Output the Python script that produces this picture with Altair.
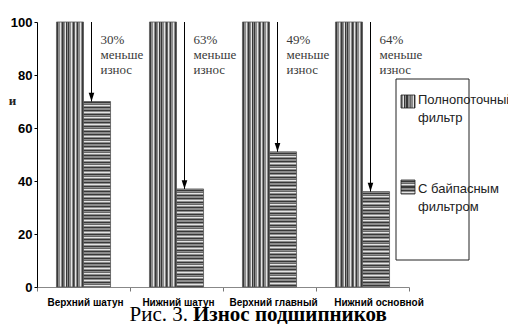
import altair as alt
import pandas as pd

# ---------------- data ----------------
categories = ["Верхний шатун", "Нижний шатун", "Верхний главный", "Нижний основной"]
series = ["Полнопоточный фильтр", "С байпасным фильтром"]
full_flow = [100, 100, 100, 100]
bypass = [70, 37, 51, 36]
reduction_labels = ["30%", "63%", "49%", "64%"]
reduction_text = "меньше\nизнос"
y_ticks = [0, 20, 40, 60, 80, 100]
y_title = "и"
caption_plain = "Рис. 3."
caption_bold = "Износ подшипников"

# ---------------- style ----------------
W, H = 372, 265
CMAP = {"g": "#8c8c8c", "d": "#383838", "l": "#e4e4e4", "m": "#666666"}
V_SEQ = "mdgglgdmgldgdgglgdmlgdgglgd"
H_CYC = "gdgmlgdggdgl"


def stripes(seq, vertical):
    stops = []
    n = len(seq)
    for i, c in enumerate(seq):
        col = CMAP[c]
        stops.append({"offset": i / n, "color": col})
        stops.append({"offset": (i + 1) / n, "color": col})
    if vertical:
        return {"gradient": "linear", "x1": 0, "x2": 1, "y1": 0, "y2": 0, "stops": stops}
    return {"gradient": "linear", "x1": 0, "x2": 0, "y1": 0, "y2": 1, "stops": stops}


def h_stripes(px):
    seq = (H_CYC * (px // len(H_CYC) + 2))[:max(px, 4)]
    return stripes(seq, False)


V_FILL = stripes(V_SEQ, True)

bars = pd.DataFrame({
    "category": categories * 2,
    "series": [series[0]] * 4 + [series[1]] * 4,
    "value": full_flow + bypass,
})
ann = pd.DataFrame({
    "category": categories,
    "top": full_flow,
    "bypass": bypass,
    "label": [f"{r}\n{reduction_text}" for r in reduction_labels],
})

x_scale = alt.Scale(domain=categories, paddingInner=0, paddingOuter=0)
y_scale = alt.Scale(domain=[0, 100], nice=False)
label_offset = {
    "condition": [
        {"test": f"datum.value === '{categories[3]}'", "value": 16},
        {"test": f"datum.value === '{categories[2]}'", "value": 3.5},
    ],
    "value": 1.5,
}
x_axis = alt.Axis(title=None, labelAngle=0, labelFont="Liberation Sans", labelFontWeight="bold",
                  labelFontSize=10, labelColor="black", tickBand="extent", tickSize=4,
                  tickColor="#777", domainColor="#888", labelPadding=6, grid=False,
                  labelOffset=label_offset)
y_axis = alt.Axis(values=y_ticks, title=y_title, titleAngle=0, titleX=-25, titleY=78,
                  titleAlign="center", titleBaseline="middle", titleFont="Liberation Serif",
                  titleFontSize=13, titleFontWeight="bold", titleColor="#222",
                  labelFont="Liberation Sans", labelFontWeight="bold", labelFontSize=13,
                  labelColor="black", tickSize=3, labelPadding=2, tickColor="black",
                  domainColor="black", grid=False)

X = alt.X("category:N", sort=categories, scale=x_scale, axis=x_axis)
XO = alt.XOffset("series:N", sort=series,
                 scale=alt.Scale(domain=series, paddingInner=0, paddingOuter=0.72))


def Yf(field):
    return alt.Y(field, type="quantitative", scale=y_scale, axis=y_axis)


layers = []
layers.append(
    alt.Chart(bars).transform_filter(alt.datum.series == series[0])
    .mark_bar(fill=V_FILL, stroke="#555", strokeWidth=0.8)
    .encode(x=X, xOffset=XO, y=Yf("value"))
)
for cat, v in zip(categories, bypass):
    px = int(round(v / 100 * H))
    layers.append(
        alt.Chart(bars)
        .transform_filter((alt.datum.series == series[1]) & (alt.datum.category == cat))
        .mark_bar(fill=h_stripes(px), stroke="#555", strokeWidth=0.8)
        .encode(x=X, xOffset=XO, y=Yf("value"))
    )

layers.append(
    alt.Chart(ann).mark_rule(color="black", strokeWidth=1, xOffset=8)
    .encode(x=X, y=Yf("top"), y2="bypass:Q")
)
layers.append(
    alt.Chart(ann).mark_point(shape="M-0.7,-2.2L0.7,-2.2L0,0Z", size=64, filled=True,
                              color="black", opacity=1, xOffset=8)
    .encode(x=X, y=Yf("bypass"))
)
layers.append(
    alt.Chart(ann).mark_text(align="left", baseline="alphabetic", dx=17, dy=22, lineBreak="\n",
                             lineHeight=15, font="Liberation Serif", fontSize=13, color="#3a3a3a")
    .encode(x=X, y=Yf("top"), text="label:N")
)

# ---------------- legend (drawn) ----------------
legend_box = pd.DataFrame({"k": [0]})
layers.append(
    alt.Chart(legend_box).mark_rect(fill="white", stroke="#222", strokeWidth=1)
    .encode(x=alt.value(359), x2=alt.value(432), y=alt.value(57), y2=alt.value(238))
)
legend_rows = [
    (series[0], V_FILL, 73, 86, 78),
    (series[1], stripes(H_CYC + "g", False), 158, 172, 167),
]
for name, fill, y0, y1, ty in legend_rows:
    a, b = name.rsplit(" ", 1)
    df = pd.DataFrame({"label": [f"{a}\n{b}"]})
    layers.append(
        alt.Chart(df).mark_rect(fill=fill, stroke="#222", strokeWidth=0.8)
        .encode(x=alt.value(364), x2=alt.value(378), y=alt.value(y0), y2=alt.value(y1))
    )
    layers.append(
        alt.Chart(df).mark_text(align="left", baseline="middle", lineBreak="\n", lineHeight=18,
                                font="Liberation Sans", fontSize=13, color="#222")
        .encode(x=alt.value(381), y=alt.value(ty), text="label:N")
    )

# ---------------- caption ----------------
cap = pd.DataFrame({"plain": [caption_plain], "bold": [caption_bold]})
layers.append(
    alt.Chart(cap).mark_text(align="right", baseline="alphabetic", font="Liberation Serif",
                             fontSize=21, color="black")
    .encode(x=alt.value(151), y=alt.value(299), text="plain:N")
)
layers.append(
    alt.Chart(cap).mark_text(align="left", baseline="alphabetic", font="Liberation Serif",
                             fontSize=21, fontWeight="bold", color="black")
    .encode(x=alt.value(156), y=alt.value(299), text="bold:N")
)

chart = (
    alt.layer(*layers)
    .properties(width=W, height=H, autosize=alt.AutoSizeParams(type="none"),
                padding={"left": 29, "top": 14, "right": 99, "bottom": 37},
                background="white")
    .configure_view(stroke=None)
)

chart.save("out.html", embed_options={"renderer": "svg", "actions": False})
